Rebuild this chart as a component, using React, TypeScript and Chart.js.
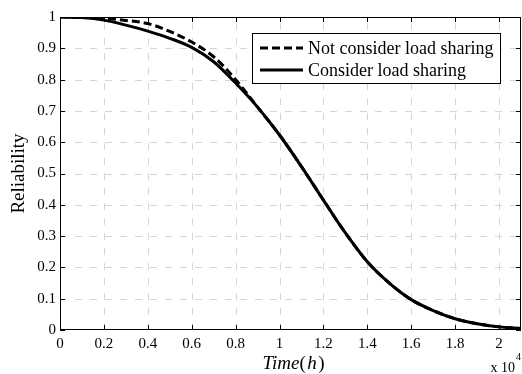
import React, { useEffect, useRef } from "react";
import { Chart, registerables } from "chart.js";

Chart.register(...registerables);

// time in units of 10^4 h
const timeValues = [0, 0.1, 0.2, 0.3, 0.4, 0.5, 0.6, 0.7, 0.8, 0.9, 1.0, 1.1, 1.2, 1.3, 1.4, 1.5, 1.6, 1.7, 1.8, 1.9, 2.0, 2.1];
const notConsiderValues = [1, 1, 0.996, 0.989, 0.979, 0.954, 0.92, 0.873, 0.8, 0.712, 0.623, 0.522, 0.415, 0.31, 0.218, 0.15, 0.097, 0.062, 0.036, 0.02, 0.01, 0.005];
const considerValues = [1, 0.998, 0.99, 0.974, 0.955, 0.932, 0.903, 0.857, 0.789, 0.712, 0.623, 0.522, 0.415, 0.31, 0.218, 0.15, 0.097, 0.062, 0.036, 0.02, 0.01, 0.005];
const xTickValues = [0, 0.2, 0.4, 0.6, 0.8, 1, 1.2, 1.4, 1.6, 1.8, 2];
const yTickValues = [0, 0.1, 0.2, 0.3, 0.4, 0.5, 0.6, 0.7, 0.8, 0.9, 1];
const seriesLabels = ["Not consider load sharing", "Consider load sharing"];
const yAxisLabel = "Reliability";
const xAxisLabelParts = [
  { text: "Time", italic: true },
  { text: "(", italic: false },
  { text: "h", italic: true },
  { text: ")", italic: false },
];
const exponentBase = "x 10";
const exponentPower = "4";

const SERIF = '"Liberation Serif", "Times New Roman", Times, serif';

const decorPlugin = {
  id: "matlabDecor",
  beforeDatasetsDraw(chart: any) {
    const { ctx, chartArea, scales } = chart;
    const { left, right, top, bottom } = chartArea;
    ctx.save();
    ctx.strokeStyle = "#d6d6d6";
    ctx.lineWidth = 1;
    ctx.setLineDash([7, 8]);
    for (const v of xTickValues) {
      const px = Math.round(scales.x.getPixelForValue(v)) + 0.5;
      if (px <= left + 1 || px >= right - 1) continue;
      ctx.beginPath();
      ctx.moveTo(px, bottom);
      ctx.lineTo(px, top);
      ctx.stroke();
    }
    for (const v of yTickValues) {
      const py = Math.round(scales.y.getPixelForValue(v)) + 0.5;
      if (py <= top + 1 || py >= bottom - 1) continue;
      ctx.beginPath();
      ctx.moveTo(left, py);
      ctx.lineTo(right, py);
      ctx.stroke();
    }
    ctx.restore();
  },
  afterDatasetsDraw(chart: any) {
    const { ctx, chartArea, scales } = chart;
    const { left, right, top, bottom } = chartArea;
    ctx.save();
    ctx.setLineDash([]);
    ctx.strokeStyle = "#000";
    ctx.lineWidth = 1;
    // box
    ctx.strokeRect(Math.round(left) + 0.5, Math.round(top) + 0.5, Math.round(right - left) - 1, Math.round(bottom - top) - 1);
    const tl = 5;
    ctx.beginPath();
    for (const v of xTickValues) {
      const px = Math.round(scales.x.getPixelForValue(v)) + 0.5;
      ctx.moveTo(px, bottom);
      ctx.lineTo(px, bottom - tl);
      ctx.moveTo(px, top);
      ctx.lineTo(px, top + tl);
    }
    for (const v of yTickValues) {
      const py = Math.round(scales.y.getPixelForValue(v)) + 0.5;
      ctx.moveTo(left, py);
      ctx.lineTo(left + tl, py);
      ctx.moveTo(right, py);
      ctx.lineTo(right - tl, py);
    }
    ctx.stroke();

    // legend
    const lx = 252, ly = 33, lw = 248, lh = 50;
    ctx.fillStyle = "#fff";
    ctx.fillRect(lx, ly, lw, lh);
    ctx.strokeRect(lx + 0.5, ly + 0.5, lw, lh);
    const rows = [48, 70];
    chart.data.datasets.forEach((ds: any, i: number) => {
      const ry = rows[i];
      ctx.beginPath();
      ctx.lineWidth = 3;
      ctx.setLineDash(ds.borderDash || []);
      ctx.moveTo(260, ry);
      ctx.lineTo(303, ry);
      ctx.stroke();
      ctx.setLineDash([]);
      ctx.fillStyle = "#000";
      ctx.font = `18px ${SERIF}`;
      ctx.textBaseline = "middle";
      ctx.textAlign = "left";
      ctx.fillText(ds.label, 308, ry + 1);
    });

    // y axis label
    ctx.fillStyle = "#000";
    ctx.save();
    ctx.translate(19, (top + bottom) / 2);
    ctx.rotate(-Math.PI / 2);
    ctx.font = `19px ${SERIF}`;
    ctx.textAlign = "center";
    ctx.textBaseline = "middle";
    ctx.fillText(yAxisLabel, 0, 0);
    ctx.restore();

    // x axis label
    ctx.textBaseline = "alphabetic";
    ctx.textAlign = "left";
    const fontFor = (it: boolean) => `${it ? "italic " : ""}19px ${SERIF}`;
    let total = 0;
    const widths = xAxisLabelParts.map((p) => {
      ctx.font = fontFor(p.italic);
      const w = ctx.measureText(p.text).width + (p.text === "h" ? 3 : 0);
      total += w;
      return w;
    });
    let cx = (left + right) / 2 + 3 - total / 2;
    xAxisLabelParts.forEach((p, i) => {
      ctx.font = fontFor(p.italic);
      ctx.fillText(p.text, cx + (p.text === "h" ? 1.5 : 0), 369);
      cx += widths[i];
    });

    // exponent
    ctx.font = `14px ${SERIF}`;
    ctx.textAlign = "right";
    ctx.fillText(exponentBase, 515, 372);
    ctx.font = `10px ${SERIF}`;
    ctx.textAlign = "left";
    ctx.fillText(exponentPower, 516, 360);
    ctx.restore();
  },
};

export default function App() {
  const canvasRef = useRef<HTMLCanvasElement | null>(null);

  useEffect(() => {
    const canvas = canvasRef.current;
    if (!canvas) return;
    const chart = new Chart(canvas, {
      type: "line",
      data: {
        datasets: [
          {
            label: seriesLabels[0],
            data: timeValues.map((t, i) => ({ x: t, y: notConsiderValues[i] })),
            borderColor: "#000",
            borderWidth: 3,
            borderDash: [8, 4],
            pointRadius: 0,
            fill: false,
            cubicInterpolationMode: "monotone",
            order: 1,
          },
          {
            label: seriesLabels[1],
            data: timeValues.map((t, i) => ({ x: t, y: considerValues[i] })),
            borderColor: "#000",
            borderWidth: 3,
            pointRadius: 0,
            fill: false,
            cubicInterpolationMode: "monotone",
            order: 0,
          },
        ],
      },
      options: {
        responsive: false,
        animation: false,
        events: [],
        layout: { padding: { top: 17, right: 1, left: 0, bottom: 0 } },
        plugins: { legend: { display: false }, tooltip: { enabled: false } },
        scales: {
          x: {
            type: "linear",
            min: 0,
            max: 2.1,
            afterBuildTicks: (s: any) => {
              s.ticks = xTickValues.map((v) => ({ value: v }));
            },
            afterFit: (s: any) => {
              s.height = 44;
            },
            grid: { display: false, drawTicks: false },
            border: { display: false },
            ticks: {
              color: "#000",
              font: { family: SERIF, size: 15 },
              padding: 5,
              maxRotation: 0,
              autoSkip: false,
              callback: (v: any) => String(v),
            },
          },
          y: {
            type: "linear",
            min: 0,
            max: 1,
            afterBuildTicks: (s: any) => {
              s.ticks = yTickValues.map((v) => ({ value: v }));
            },
            afterFit: (s: any) => {
              s.width = 60;
            },
            grid: { display: false, drawTicks: false },
            border: { display: false },
            ticks: {
              color: "#000",
              font: { family: SERIF, size: 15 },
              padding: 4,
              autoSkip: false,
              callback: (v: any) => String(v),
            },
          },
        },
      },
      plugins: [decorPlugin],
    } as any);
    return () => chart.destroy();
  }, []);

  return (
    <div style={{ position: "absolute", left: 0, top: 0, width: 522, height: 374, background: "#fff" }}>
      <canvas ref={canvasRef} width={522} height={374} style={{ display: "block", width: 522, height: 374 }} />
    </div>
  );
}
